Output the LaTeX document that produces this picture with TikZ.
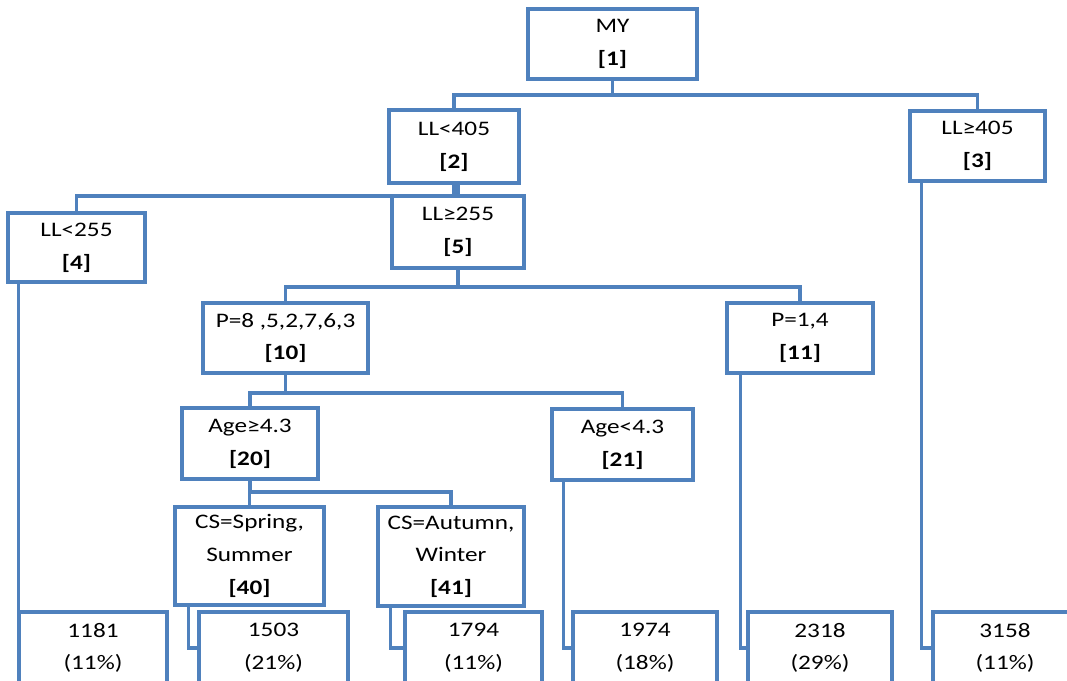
\documentclass[tikz,border=0pt]{standalone}
\usepackage{fontspec}
\setmainfont{Carlito}[FakeStretch=1.22]
\usepackage{tikz}
\definecolor{treeblue}{HTML}{4F81BD}
\newcommand{\px}{0.75pt}
\tikzstyle{split}=[
        draw=treeblue,
        line width=2.3pt,
        fill=white,
        align=center,
        inner sep=0pt,
        text=black,
        font=\fontsize{15.5}{24.5}\selectfont
]
\tikzstyle{leaf}=[
        split,
        minimum height=72*\px
]
\tikzstyle{link}=[
        draw=treeblue,
        line width=2.3pt
]

\begin{document}
\begin{tikzpicture}[x=0.75pt,y=-0.75pt]
                        \useasboundingbox (0,0) rectangle (1067,681);

                        % splits
                        \node[split, minimum width=169*\px, minimum height=70*\px] (n1) at (612.5,44) {MY\\\textbf{[1]}};
                        \node[split, minimum width=130*\px, minimum height=73*\px] (n2) at (454,146.5) {LL<405\\\textbf{[2]}};
                        \node[split, minimum width=135*\px, minimum height=70*\px] (n3) at (977.5,146) {LL≥405\\\textbf{[3]}};
                        \node[split, minimum width=137*\px, minimum height=69*\px] (n4) at (76.5,247.5) {LL<255\\\textbf{[4]}};
                        \node[split, minimum width=132*\px, minimum height=72*\px] (n5) at (458,232) {LL≥255\\\textbf{[5]}};
                        \node[split, minimum width=165*\px, minimum height=70*\px] (n10) at (285.5,338) {P=8 ,5,2,7,6,3\\\textbf{[10]}};
                        \node[split, minimum width=146*\px, minimum height=70*\px] (n11) at (800,338) {P=1,4\\\textbf{[11]}};
                        \node[split, minimum width=136*\px, minimum height=71*\px] (n20) at (250,443.5) {Age≥4.3\\\textbf{[20]}};
                        \node[split, minimum width=141*\px, minimum height=71*\px] (n21) at (622.5,444.5) {Age<4.3\\\textbf{[21]}};
                        \node[split, minimum width=149*\px, minimum height=98*\px] (n40) at (249.5,556) {CS=Spring,\\Summer\\\textbf{[40]}};
                        \node[split, minimum width=146*\px, minimum height=99*\px] (n41) at (451,556.5) {CS=Autumn,\\Winter\\\textbf{[41]}};

                        % leaves
                        \node[leaf, minimum width=148*\px] (l4) at (93,648) {1181\\(11\%)};
                        \node[leaf, minimum width=149*\px] (l40) at (273.5,648) {1503\\(21\%)};
                        \node[leaf, minimum width=137*\px] (l41) at (473.5,648) {1794\\(11\%)};
                        \node[leaf, minimum width=144*\px] (l21) at (645,648) {1974\\(18\%)};
                        \node[leaf, minimum width=144*\px] (l11) at (820,648) {2318\\(29\%)};
                        \node[leaf, minimum width=144*\px] (l3) at (1005,648) {3158\\(11\%)};

                        \coordinate (b1) at (0,95);
                        \coordinate (b2) at (0,196);
                        \coordinate (b5) at (0,287);
                        \coordinate (b10) at (0,393);
                        \coordinate (b20) at (0,492);

                        \draw[link] (n1.south) -- (n1.south |- b1) -| (n2.north);
                        \draw[link] (n1.south |- b1) -| (n3.north);

                        \draw[link] (n2.south) -- (n2.south |- b2) -| (n4.north);
                        \draw[link] (n2.south -| n5.north) -- (n5.north);

                        \draw[link] (n5.south) -- (n5.south |- b5) -| (n10.north);
                        \draw[link] (n5.south |- b5) -| (n11.north);

                        \draw[link] (n10.south) -- (n10.south |- b10) -| (n20.north);
                        \draw[link] (n10.south |- b10) -| (n21.north);

                        \draw[link] (n20.south) -- (n20.south |- b20) -| (n40.north);
                        \draw[link] (n20.south |- b20) -| (n41.north);

                        \draw[link] ([xshift=9pt]n4.south west) |- (l4.west);
                        \draw[link] ([xshift=11pt]n40.south west) |- (l40.west);
                        \draw[link] ([xshift=10.5pt]n41.south west) |- (l41.west);
                        \draw[link] ([xshift=10pt]n21.south west) |- (l21.west);
                        \draw[link] ([xshift=11pt]n11.south west) |- (l11.west);
                        \draw[link] ([xshift=10pt]n3.south west) |- (l3.west);

                    \end{tikzpicture}
\end{document}
